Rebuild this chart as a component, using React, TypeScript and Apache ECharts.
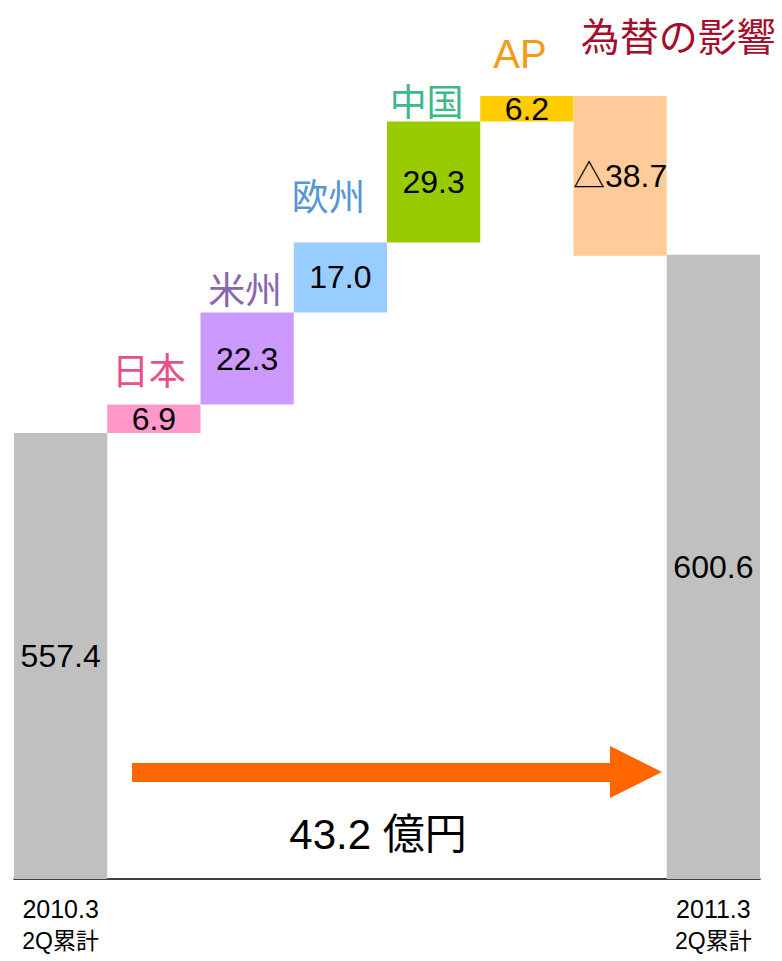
import React, { useEffect, useRef } from "react";
import * as echarts from "echarts";

const categories = ["2010.3\n2Q累計", "日本", "米州", "欧州", "中国", "AP", "為替の影響", "2011.3\n2Q累計"];
const values = [557.4, 6.9, 22.3, 17.0, 29.3, 6.2, -38.7, 600.6];
const isTotal = [true, false, false, false, false, false, false, true];
const barColors = ["#c0c0c0", "#ff99cc", "#cc99ff", "#99ccff", "#99cc00", "#ffcc00", "#ffcc99", "#c0c0c0"];
const nameColors = ["", "#e8508b", "#8a65b0", "#5596d6", "#3cb98a", "#f39c1a", "#a50f2d", ""];
const nameOffsets: number[][] = [[0, 0], [-5, -36], [-2, -25], [-12, -47], [-7, -22], [-7, -42], [58, -62], [0, 0]];
const nameSizes = [0, 37, 37, 37, 37, 40, 39, 0];
const unitText = "億円";

const NUM_FONT = "'Liberation Sans', Arial, 'Noto Sans CJK JP', sans-serif";
const CJK_FONT = "'Noto Sans CJK JP', sans-serif";

export default function App() {
  const ref = useRef<HTMLDivElement>(null);
  useEffect(() => {
    if (!ref.current) return;
    const chart = echarts.init(ref.current, null, { renderer: "svg" });

    const bases: (number | string)[] = [];
    const heights: (number | string)[] = [];
    const totals: (number | string)[] = [];
    const tops: number[] = [];
    let running = 0;
    values.forEach((v, i) => {
      if (isTotal[i]) {
        totals.push(v);
        bases.push("-");
        heights.push("-");
        running = v;
        tops.push(v);
      } else {
        totals.push("-");
        const base = v >= 0 ? running : running + v;
        bases.push(base);
        heights.push(Math.abs(v));
        tops.push(v >= 0 ? running + v : running);
        running += v;
      }
    });

    const fmt = (i: number) => {
      const v = values[i];
      return v < 0 ? "△" + Math.abs(v).toFixed(1) : v.toFixed(1);
    };

    const valueLabel = {
      show: true,
      position: "inside" as const,
      color: "#000",
      fontSize: 32,
      fontFamily: NUM_FONT,
      formatter: (p: any) => fmt(p.dataIndex),
    };

    const nameData: any[] = [];
    categories.forEach((c, i) => {
      if (isTotal[i]) return;
      nameData.push({
        value: [i, tops[i]],
        name: c,
        label: {
          show: true,
          position: "inside",
          formatter: c,
          color: nameColors[i],
          offset: nameOffsets[i],
          fontSize: nameSizes[i],
          fontFamily: c === "AP" ? "'Liberation Sans', Arial, sans-serif" : CJK_FONT,
        },
      });
    });

    const diff = (values[values.length - 1] - values[0]).toFixed(1);

    chart.setOption({
      animation: false,
      backgroundColor: "#ffffff",
      grid: { left: 14, right: 22, top: 51, bottom: 82, containLabel: false },
      xAxis: {
        type: "category",
        data: categories,
        axisLine: { show: true, lineStyle: { color: "#000", width: 1.5 } },
        axisTick: { show: false },
        axisLabel: {
          interval: 0,
          margin: 14,
          color: "#000",
          fontFamily: "'Liberation Sans', Arial, 'Noto Sans CJK JP', sans-serif",
          formatter: (v: string, i: number) => {
            if (!isTotal[i]) return "";
            const [a, b] = v.split("\n");
            return "{a|" + a + "}\n{b|" + b + "}";
          },
          rich: {
            a: { fontSize: 25, lineHeight: 32, color: "#000", fontFamily: "'Liberation Sans', Arial, sans-serif" },
            b: { fontSize: 23, lineHeight: 32, color: "#000", fontFamily: "'Liberation Sans', Arial, 'Noto Sans CJK JP', sans-serif" },
          },
        },
        splitLine: { show: false },
      },
      yAxis: {
        type: "value",
        min: 449.3,
        max: 650,
        show: false,
        splitLine: { show: false },
      },
      series: [
        {
          type: "bar",
          name: "totals",
          data: totals.map((v, i) => (v === "-" ? "-" : { value: v, itemStyle: { color: barColors[i] } })),
          barGap: "-100%",
          barCategoryGap: "0%",
          label: valueLabel,
          clip: true,
        },
        {
          type: "bar",
          name: "base",
          stack: "wf",
          data: bases,
          itemStyle: { color: "transparent" },
          barCategoryGap: "0%",
          silent: true,
        },
        {
          type: "bar",
          name: "delta",
          stack: "wf",
          data: heights.map((v, i) => (v === "-" ? "-" : { value: v, itemStyle: { color: barColors[i] } })),
          barCategoryGap: "0%",
          label: valueLabel,
        },
        {
          type: "scatter",
          name: "names",
          data: nameData,
          symbol: "circle",
          symbolSize: 2,
          itemStyle: { color: "rgba(255,255,255,0)", opacity: 1 },
          label: { show: true, position: "inside" },
          z: 5,
        },
      ],
      graphic: [
        {
          type: "rect",
          shape: { x: 132, y: 763, width: 479, height: 19 },
          style: { fill: "#ff6600" },
          z: 10,
        },
        {
          type: "polygon",
          shape: { points: [[610, 746], [610, 798], [662, 772]] },
          style: { fill: "#ff6600" },
          z: 10,
        },
        {
          type: "text",
          x: 378,
          y: 834,
          style: {
            text: diff + " " + unitText,
            fill: "#000",
            fontSize: 42,
            fontFamily: NUM_FONT,
            align: "center",
            verticalAlign: "middle",
          },
          z: 10,
        },
      ],
    });
    return () => chart.dispose();
  }, []);
  return (
    <div
      ref={ref}
      style={{ position: "absolute", left: 0, top: 0, width: 782, height: 961, background: "#fff" }}
    />
  );
}
